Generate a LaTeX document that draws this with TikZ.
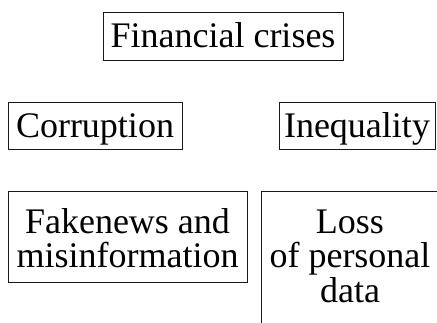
\documentclass[tikz,border=0pt]{standalone}
\usepackage{fontspec}
\setmainfont{Liberation Serif}
\begin{document}
\begin{tikzpicture}[x=1pt,y=-1pt,
  box/.style={draw=black!90, line width=1.1pt, inner sep=0pt, anchor=north west},
  word/.style={inner sep=0pt, anchor=base, text=black, font=\fontsize{36}{34.5}\selectfont}]
\useasboundingbox (0,0) rectangle (437,322);
\clip (0,0) rectangle (437,322);
% boxes
\node[box, minimum width=240pt, minimum height=48pt] (fin) at (103,12) {};
\node[box, minimum width=174pt, minimum height=47pt] (cor) at (8,102) {};
\node[box, minimum width=156pt, minimum height=47pt] (ineq) at (279,102) {};
\node[box, minimum width=239pt, minimum height=91pt] (fake) at (8,191) {};
\node[box, minimum width=178pt, minimum height=150pt] (loss) at (261,191) {};
% labels
\node[word] (finT) at (223,47.5) {Financial crises};
\node[word] (corT) at (95,137) {Corruption};
\node[word] (ineqT) at (357,137) {Inequality};
\node[word] (fakeA) at (127.5,233) {Fakenews and};
\node[word] (fakeB) at (127.5,267.5) {misinformation};
\node[word] (lossA) at (350,233) {Loss};
\node[word] (lossB) at (350,267.5) {of personal};
\node[word] (lossC) at (350,302) {data};
\end{tikzpicture}
\end{document}
